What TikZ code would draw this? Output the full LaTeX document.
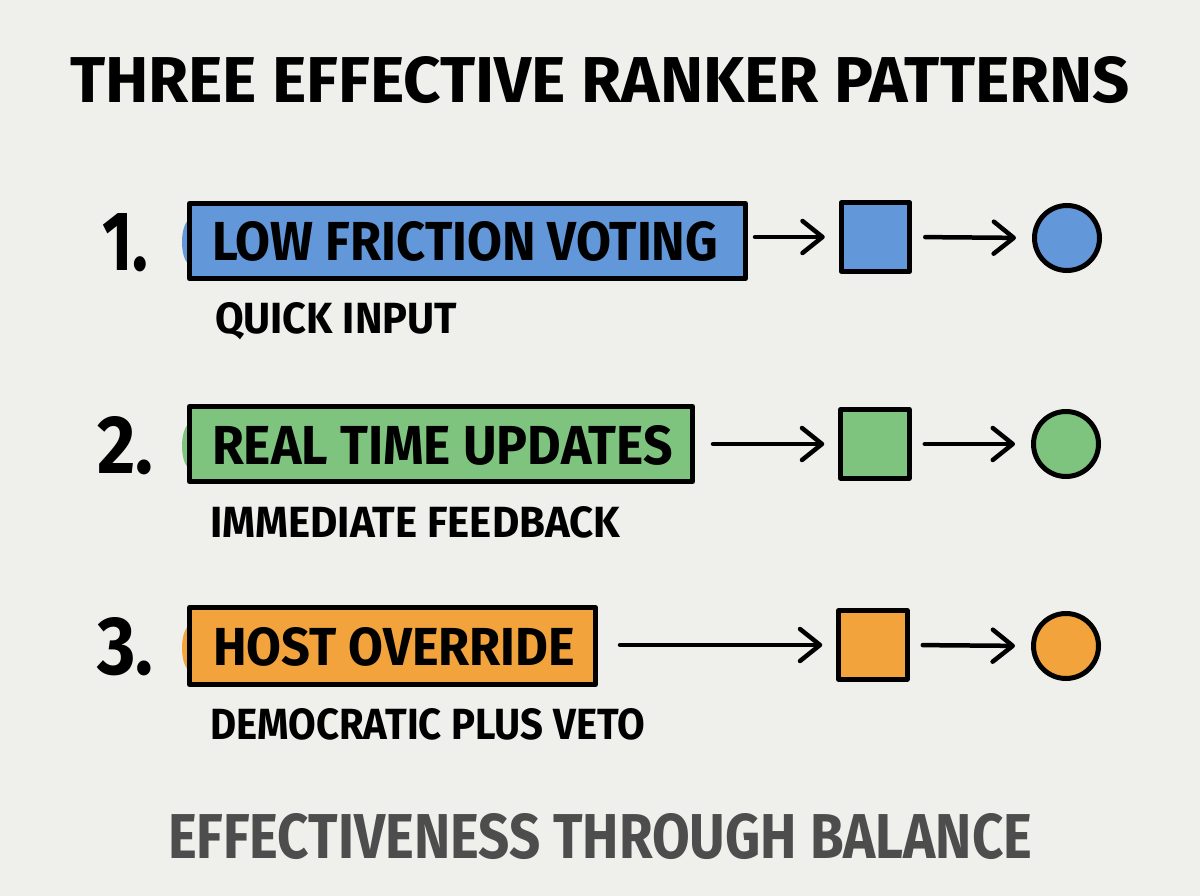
\documentclass[tikz,border=0pt]{standalone}
\usepackage{fontspec}
\setmainfont{Fira Sans}
\usepackage{graphicx}
\usetikzlibrary{arrows.meta}
\definecolor{bgc}{HTML}{EFEFEC}
\definecolor{cblue}{HTML}{6297D9}
\definecolor{cgreen}{HTML}{7EC47F}
\definecolor{corange}{HTML}{F2A33B}
\definecolor{cgray}{HTML}{4D4D4D}
\newcommand\fitt[3]{\resizebox{#1pt}{#2pt}{\bfseries #3}}
\tikzset{
  lbl/.style={inner sep=0pt, outer sep=0pt, anchor=base west},
  pbox/.style={draw=black, line width=5pt, line join=round, inner sep=0pt, rectangle},
  sq/.style={draw=black, line width=5pt, line join=round, inner sep=0pt, rectangle, minimum size=68.5pt},
  circ/.style={draw=black, line width=5pt, inner sep=0pt, circle, minimum size=65pt},
  flow/.style={line width=4.5pt, line cap=round, -{Straight Barb[length=20pt,width=32pt,line cap=round,line join=round]}},
}
\begin{document}
\begin{tikzpicture}[x=1pt,y=-1pt]
\fill[bgc] (0,0) rectangle (1200,896);
\useasboundingbox (0,0) rectangle (1200,896);

% title
\node[lbl] (title) at (70,103) {\fitt{1060}{46}{THREE EFFECTIVE RANKER PATTERNS}};

% numbers
\node[lbl] (n1) at (102,271) {\fitt{46}{57}{1.}};
\node[lbl] (n2) at (97,473) {\fitt{56}{57}{2.}};
\node[lbl] (n3) at (97,674) {\fitt{56}{57}{3.}};

% fill blobs (hand-painted overflow at the left edge)
\fill[cblue] (190,242) ellipse [x radius=8, y radius=22];
\fill[cgreen] (190,446) ellipse [x radius=8, y radius=22];
\fill[corange] (190,648) ellipse [x radius=8, y radius=22];

% boxes
\node[pbox, fill=cblue, minimum width=556pt, minimum height=75pt] (b1) at (467.5,241) {};
\node[pbox, fill=cgreen, minimum width=503pt, minimum height=75pt] (b2) at (441,444) {};
\node[pbox, fill=corange, minimum width=406pt, minimum height=77pt] (b3) at (392.5,646) {};

\node[lbl] (t1) at (212,261) {\fitt{506}{39}{LOW FRICTION VOTING}};
\node[lbl] (t2) at (212,464) {\fitt{461}{39}{REAL TIME UPDATES}};
\node[lbl] (t3) at (213,665) {\fitt{362}{38}{HOST OVERRIDE}};

% subtitles
\node[lbl] (s1) at (215,334) {\fitt{242}{31}{QUICK INPUT}};
\node[lbl] (s2) at (210,537) {\fitt{410}{31}{IMMEDIATE FEEDBACK}};
\node[lbl] (s3) at (210,739) {\fitt{435}{31}{DEMOCRATIC PLUS VETO}};

% squares and circles
\node[sq, fill=cblue] (q1) at (875.5,237) {};
\node[sq, fill=cgreen] (q2) at (875,444) {};
\node[sq, fill=corange] (q3) at (873,645) {};
\node[circ, fill=cblue] (c1) at (1067,238) {};
\node[circ, fill=cgreen] (c2) at (1066,444) {};
\node[circ, fill=corange] (c3) at (1066,646) {};

% arrows
\draw[flow, shorten <=7pt, shorten >=14pt] (b1.east |- q1.west) -- (q1.west);
\draw[flow, shorten <=18pt, shorten >=14pt] (b2.east |- q2.west) -- (q2.west);
\draw[flow, shorten <=22pt, shorten >=14pt] (b3.east |- q3.west) -- (q3.west);
\draw[flow, shorten <=13pt, shorten >=16pt] (q1.east) -- (c1.west);
\draw[flow, shorten <=13pt, shorten >=16pt] (q2.east) -- (c2.west);
\draw[flow, shorten <=13pt, shorten >=16pt] (q3.east) -- (c3.west);

% footer
\node[lbl] (foot) at (168,858) {\color{cgray}\fitt{864}{45}{EFFECTIVENESS THROUGH BALANCE}};
\end{tikzpicture}
\end{document}
